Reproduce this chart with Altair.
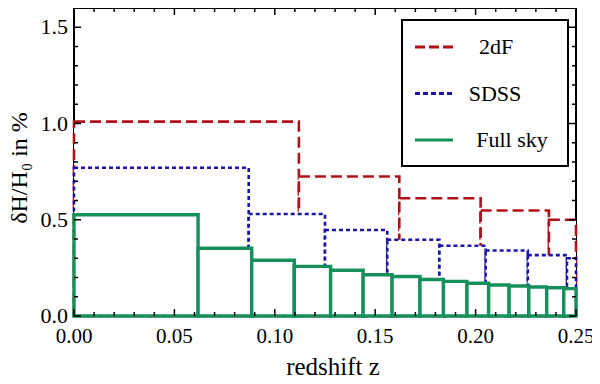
import altair as alt
import pandas as pd

# ---- data ----
series_names = ["2dF", "SDSS", "Full sky"]

edges_2df = [0.0, 0.112, 0.162, 0.2025, 0.2365, 0.25]
vals_2df = [1.01, 0.725, 0.612, 0.548, 0.50]

edges_sdss = [0.0, 0.087, 0.125, 0.156, 0.182, 0.205, 0.226, 0.2455, 0.25]
vals_sdss = [0.77, 0.53, 0.447, 0.396, 0.365, 0.34, 0.316, 0.30]

edges_full = [0.0, 0.0618, 0.0885, 0.1097, 0.1278, 0.1440, 0.1584, 0.1723,
              0.1840, 0.1957, 0.2065, 0.2167, 0.2265, 0.2354, 0.2439, 0.25]
vals_full = [0.526, 0.352, 0.29, 0.258, 0.238, 0.214, 0.205, 0.19, 0.18,
             0.17, 0.161, 0.156, 0.151, 0.147, 0.142]

x_major = [0.0, 0.05, 0.10, 0.15, 0.20, 0.25]
x_minor = [i / 100 for i in range(26) if i % 5 != 0]
y_major = [0.0, 0.5, 1.0, 1.5]
y_minor = [i / 10 for i in range(17) if i % 5 != 0]

x_title = "redshift z"
y_title = "δH/H₀ in %"

# ---- styling ----
colors = ["#b0101a", "#1a14a8", "#16905a"]
dashes = [[11, 5], [4, 3], [1, 0]]
legend_dashes = [[10, 4], [5, 3], [1, 0]]
widths = [2.6, 2.6, 3.4]

W, H = 502, 308
FONT = "Liberation Serif"

xscale = alt.Scale(domain=[0, 0.25], nice=False, zero=False, padding=0)
yscale = alt.Scale(domain=[0, 1.6], nice=False, zero=False, padding=0)


def X(field):
    return alt.X(field, scale=xscale, axis=None)


def Y(field):
    return alt.Y(field, scale=yscale, axis=None)


one = pd.DataFrame({"a": [0]})

series_data = [("2dF", edges_2df, vals_2df),
               ("SDSS", edges_sdss, vals_sdss),
               ("Full sky", edges_full, vals_full)]

layers = []
for k, (name, edges, vals) in enumerate(series_data):
    d = pd.DataFrame({"series": name, "x0": edges[:-1], "x1": edges[1:],
                      "y0": 0.0, "y1": vals})
    layers.append(
        alt.Chart(d).mark_rect(fill="white", fillOpacity=1, stroke=colors[k],
                               strokeDash=dashes[k], strokeWidth=widths[k]).encode(
            x=X("x0:Q"), x2="x1:Q", y=Y("y0:Q"), y2="y1:Q")
    )


# ---- ticks (inward, all four sides) ----
def xticks(vals, length, top):
    d = pd.DataFrame({"v": vals})
    base = alt.Chart(d).mark_rule(color="black", strokeWidth=1.5)
    if top:
        return base.encode(x=X("v:Q"), y=alt.value(0), y2=alt.value(length))
    return base.encode(x=X("v:Q"), y=alt.value(H), y2=alt.value(H - length))


def yticks(vals, length, right):
    d = pd.DataFrame({"v": vals})
    base = alt.Chart(d).mark_rule(color="black", strokeWidth=1.5)
    if right:
        return base.encode(y=Y("v:Q"), x=alt.value(W), x2=alt.value(W - length))
    return base.encode(y=Y("v:Q"), x=alt.value(0), x2=alt.value(length))


ticks = [
    xticks(x_major, 7, False), xticks(x_minor, 4, False),
    xticks(x_major, 7, True), xticks(x_minor, 4, True),
    yticks(y_major, 7, False), yticks(y_minor, 4, False),
    yticks(y_major, 7, True), yticks(y_minor, 4, True),
]

# ---- tick labels and titles ----
xlab = alt.Chart(pd.DataFrame({"v": x_major})).mark_text(
    font=FONT, fontSize=21, color="black", align="center", baseline="alphabetic"
).encode(x=X("v:Q"), y=alt.value(H + 27), text=alt.Text("v:Q", format=".2f"))

ylab = alt.Chart(pd.DataFrame({"v": y_major})).mark_text(
    font=FONT, fontSize=22, color="black", align="right", baseline="middle"
).encode(y=Y("v:Q"), x=alt.value(-6), text=alt.Text("v:Q", format=".1f"))

xtit = alt.Chart(pd.DataFrame({"t": [x_title]})).mark_text(
    font=FONT, fontSize=25, color="black", align="center", baseline="alphabetic"
).encode(x=alt.value(W / 2 + 8), y=alt.value(H + 59), text="t:N")

ytit = alt.Chart(pd.DataFrame({"t": [y_title]})).mark_text(
    font=FONT, fontSize=24, color="black", align="center", baseline="middle",
    angle=270
).encode(x=alt.value(-54), y=alt.value(H / 2 + 6), text="t:N")

# ---- legend ----
box = alt.Chart(one).mark_rect(fill="white", stroke="black", strokeWidth=2).encode(
    x=alt.value(328), x2=alt.value(494), y=alt.value(12), y2=alt.value(158))

row_y = [39, 85.5, 132]
label_x = [422, 421, 438]
legend_layers = [box]
for k, name in enumerate(series_names):
    legend_layers.append(
        alt.Chart(one).mark_rule(stroke=colors[k], strokeDash=legend_dashes[k],
                                 strokeWidth=3).encode(
            x=alt.value(341), x2=alt.value(379), y=alt.value(row_y[k]))
    )
    legend_layers.append(
        alt.Chart(pd.DataFrame({"series": [name]})).mark_text(
            font=FONT, fontSize=22, color="black", align="center", baseline="middle"
        ).encode(x=alt.value(label_x[k]), y=alt.value(row_y[k]), text="series:N")
    )

chart = alt.layer(
    *layers, *ticks, xlab, ylab, xtit, ytit, *legend_layers,
).properties(
    width=W, height=H,
    autosize=alt.AutoSizeParams(type="none"),
    padding={"left": 66, "top": 0, "right": 16, "bottom": 68},
).configure_view(
    stroke="black", strokeWidth=2
)

chart.save("out.html", embed_options={"renderer": "svg", "actions": False})
